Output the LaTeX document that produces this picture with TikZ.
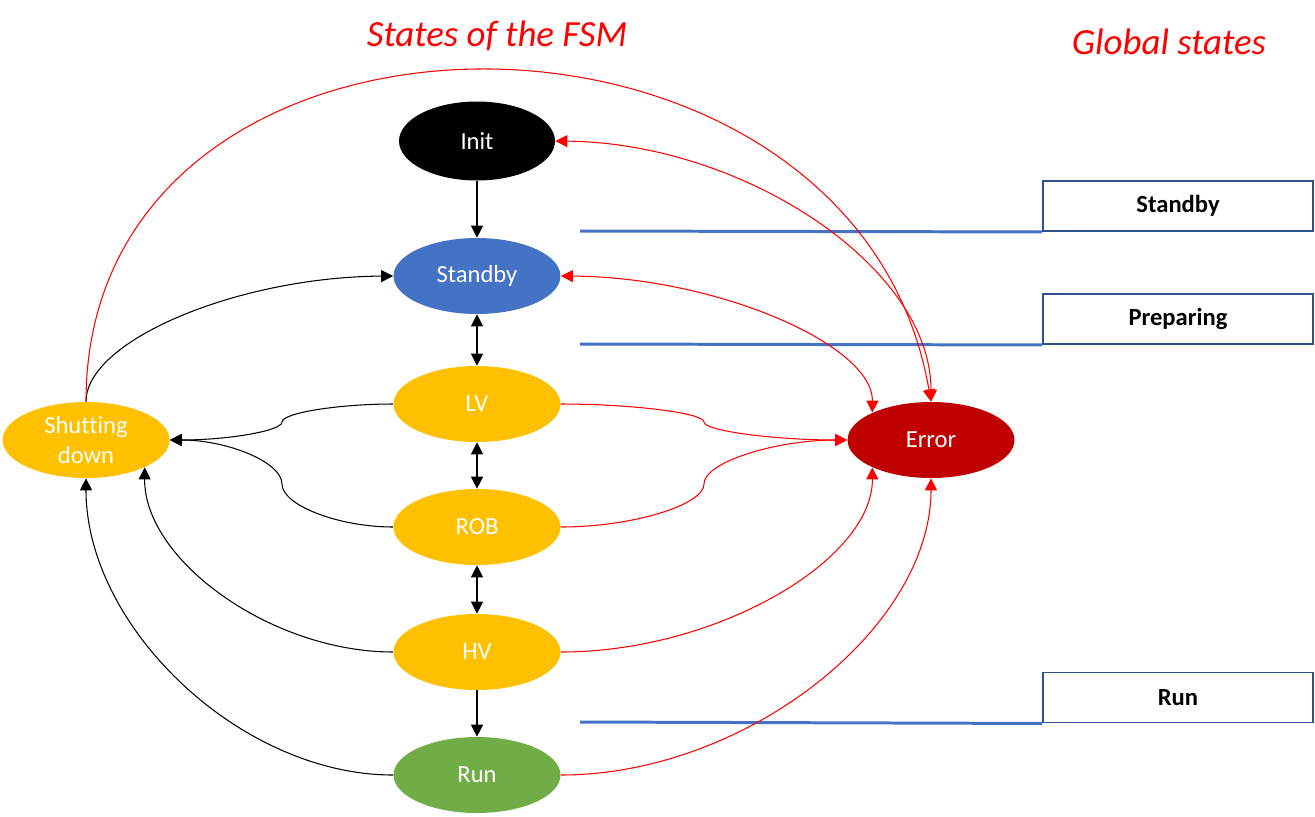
\documentclass[tikz,border=0pt]{standalone}
\usepackage{fontspec}
\setmainfont{Carlito}[Ligatures=NoCommon]
\usetikzlibrary{shapes.geometric,arrows.meta,positioning}
\definecolor{fsmyellow}{RGB}{255,192,0}
\definecolor{fsmblue}{RGB}{68,114,196}
\definecolor{fsmgreen}{RGB}{112,173,71}
\definecolor{fsmdarkred}{RGB}{192,0,0}
\definecolor{fsmred}{RGB}{255,0,0}
\definecolor{fsmframe}{RGB}{47,82,143}

\begin{document}
\begin{tikzpicture}[x=0.02cm, y=-0.02cm,
    >={Triangle[length=0.24cm,width=0.24cm]},
    fsmstate/.style={ellipse, inner sep=0pt, minimum width=3.34cm, minimum height=1.52cm,
                     text=white, align=center, font=\fontsize{14}{17}\selectfont},
    globalbox/.style={draw=fsmframe, line width=1.1pt, fill=white, inner sep=0pt,
                      minimum width=5.4cm, minimum height=1cm,
                      font=\fontsize{14}{17}\selectfont\bfseries},
    headline/.style={font=\fontsize{21}{25}\selectfont\itshape, text=fsmred},
    blkarrow/.style={->, line width=0.6pt, black},
    redarrow/.style={->, line width=0.6pt, fsmred},
    levelline/.style={line width=1.7pt, fsmblue}
]
\useasboundingbox (0,0) rectangle (1315,816);

\node[headline, anchor=base] (tFSM)  at (497,46)  {States of the FSM};
\node[headline, anchor=base] (tGlob) at (1169,54) {Global states};

% states of the FSM
\node[fsmstate, fill=black, minimum width=3.12cm, minimum height=1.58cm] (Init) at (477,141) {Init};
\node[fsmstate, fill=fsmblue]    (Stby) at (477,276) {Standby};
\node[fsmstate, fill=fsmyellow]  (LV)   at (477,404) {LV};
\node[fsmstate, fill=fsmyellow]  (ROB)  at (477,527) {ROB};
\node[fsmstate, fill=fsmyellow]  (HV)   at (477,652) {HV};
\node[fsmstate, fill=fsmgreen]   (Run)  at (477,775) {Run};
\node[fsmstate, fill=fsmyellow]  (SD)   at (86,440)  {Shutting\\down};
\node[fsmstate, fill=fsmdarkred] (Err)  at (931,440) {Error};

% global states
\node[globalbox] (gStby) at (1178,206)   {Standby};
\node[globalbox] (gPrep) at (1178,319)   {Preparing};
\node[globalbox] (gRun)  at (1178,697.5) {Run};

\coordinate (lStby) at (580,231);
\coordinate (lPrep) at (580,344);
\coordinate (lRun)  at (580,722);
\draw[levelline] (lStby) -- (gStby.south west);
\draw[levelline] (lPrep) -- (gPrep.south west);
\draw[levelline] (lRun)  -- (gRun.south west);

% main chain
\draw[blkarrow] (Init.south) -- (Stby.north);
\draw[blkarrow, <->] (Stby.south) -- (LV.north);
\draw[blkarrow, <->] (LV.south) -- (ROB.north);
\draw[blkarrow, <->] (ROB.south) -- (HV.north);
\draw[blkarrow] (HV.south) -- (Run.north);

% towards shutting down
\draw[blkarrow] (SD.north) .. controls (86,340) and (239,277) .. (Stby.west);
\draw[blkarrow] (LV.west) .. controls (338,404) and (282,413) .. (282,422)
                .. controls (282,431) and (227,440) .. (SD.east);
\draw[blkarrow] (ROB.west) .. controls (338,527) and (282,505) .. (282,484)
                .. controls (282,462) and (227,440) .. (SD.east);
\draw[blkarrow] (HV.west) .. controls (271,652) and (144,560) .. (SD.335);
\draw[blkarrow] (Run.west) .. controls (240,775) and (86,627) .. (SD.south);

% towards error
\draw[redarrow] (SD.north) .. controls (86,-40) and (855,-40) .. (Err.north);
\draw[redarrow, <->] (Init.east) .. controls (744,143) and (931,267) .. (Err.north);
\draw[redarrow, <->] (Stby.east) .. controls (717,277) and (873,345) .. (Err.155);
\draw[redarrow] (LV.east) .. controls (632,404) and (704,413) .. (704,422)
                .. controls (704,431) and (776,440) .. (Err.west);
\draw[redarrow] (ROB.east) .. controls (632,527) and (704,505) .. (704,484)
                .. controls (704,462) and (776,440) .. (Err.west);
\draw[redarrow] (HV.east) .. controls (717,652) and (873,560) .. (Err.205);
\draw[redarrow] (Run.east) .. controls (746,775) and (931,628) .. (Err.south);
\end{tikzpicture}
\end{document}
